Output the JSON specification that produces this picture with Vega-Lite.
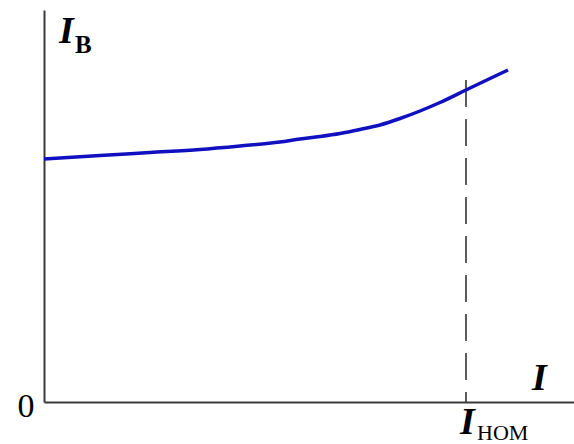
{
  "$schema": "https://vega.github.io/schema/vega-lite/v6.json",
  "width": 530,
  "height": 392,
  "autosize": {"type": "none"},
  "padding": {"left": 44, "top": 10, "right": 0, "bottom": 42},
  "background": "white",
  "config": {"view": {"stroke": null}},
  "datasets": {
    "curve": [
      {"I": 0, "IB": 243},
      {"I": 56, "IB": 246.5},
      {"I": 106, "IB": 249.5},
      {"I": 156, "IB": 252.5},
      {"I": 196, "IB": 256},
      {"I": 236, "IB": 260},
      {"I": 256, "IB": 263},
      {"I": 276, "IB": 265.5},
      {"I": 296, "IB": 268.5},
      {"I": 316, "IB": 272.5},
      {"I": 336, "IB": 277},
      {"I": 356, "IB": 283.5},
      {"I": 376, "IB": 291},
      {"I": 396, "IB": 299.5},
      {"I": 422, "IB": 312},
      {"I": 446, "IB": 323.5},
      {"I": 464, "IB": 332}
    ],
    "nominal": [{"I": 422, "top": 322, "bottom": 0}],
    "mainLabels": [
      {"x": 15, "y": 359, "t": "I"},
      {"x": 488, "y": 12, "t": "I"},
      {"x": 416, "y": -32, "t": "I"}
    ],
    "subBold": [{"x": 31, "y": 349, "t": "В"}],
    "subRegular": [{"x": 433, "y": -38, "t": "НОМ"}],
    "zero": [{"x": -18, "y": -15, "t": "0"}]
  },
  "layer": [
    {
      "data": {"name": "nominal"},
      "mark": {"type": "rule", "color": "#333333", "strokeWidth": 1.6, "strokeDash": [27, 12]},
      "encoding": {
        "x": {"field": "I", "type": "quantitative", "scale": {"domain": [0, 530], "nice": false, "zero": false},
          "axis": {"domain": true, "domainColor": "#3a3a3a", "domainWidth": 2, "ticks": false, "labels": false, "grid": false, "title": null}},
        "y": {"field": "top", "type": "quantitative", "scale": {"domain": [0, 392], "nice": false, "zero": false},
          "axis": {"domain": true, "domainColor": "#3a3a3a", "domainWidth": 2, "ticks": false, "labels": false, "grid": false, "title": null}},
        "y2": {"field": "bottom"}
      }
    },
    {
      "data": {"name": "curve"},
      "mark": {"type": "line", "color": "#1010c0", "strokeWidth": 3.5, "interpolate": "monotone"},
      "encoding": {
        "x": {"field": "I", "type": "quantitative"},
        "y": {"field": "IB", "type": "quantitative"}
      }
    },
    {
      "data": {"name": "mainLabels"},
      "mark": {"type": "text", "font": "Liberation Serif", "fontSize": 38, "fontStyle": "italic", "fontWeight": "bold", "align": "left", "baseline": "alphabetic", "color": "black"},
      "encoding": {
        "x": {"field": "x", "type": "quantitative"},
        "y": {"field": "y", "type": "quantitative"},
        "text": {"field": "t"}
      }
    },
    {
      "data": {"name": "subBold"},
      "mark": {"type": "text", "font": "Liberation Serif", "fontSize": 25, "fontWeight": "bold", "align": "left", "baseline": "alphabetic", "color": "black"},
      "encoding": {
        "x": {"field": "x", "type": "quantitative"},
        "y": {"field": "y", "type": "quantitative"},
        "text": {"field": "t"}
      }
    },
    {
      "data": {"name": "subRegular"},
      "mark": {"type": "text", "font": "Liberation Serif", "fontSize": 22, "align": "left", "baseline": "alphabetic", "color": "black"},
      "encoding": {
        "x": {"field": "x", "type": "quantitative"},
        "y": {"field": "y", "type": "quantitative"},
        "text": {"field": "t"}
      }
    },
    {
      "data": {"name": "zero"},
      "mark": {"type": "text", "font": "Liberation Serif", "fontSize": 34, "align": "center", "baseline": "alphabetic", "color": "black"},
      "encoding": {
        "x": {"field": "x", "type": "quantitative"},
        "y": {"field": "y", "type": "quantitative"},
        "text": {"field": "t"}
      }
    }
  ]
}
